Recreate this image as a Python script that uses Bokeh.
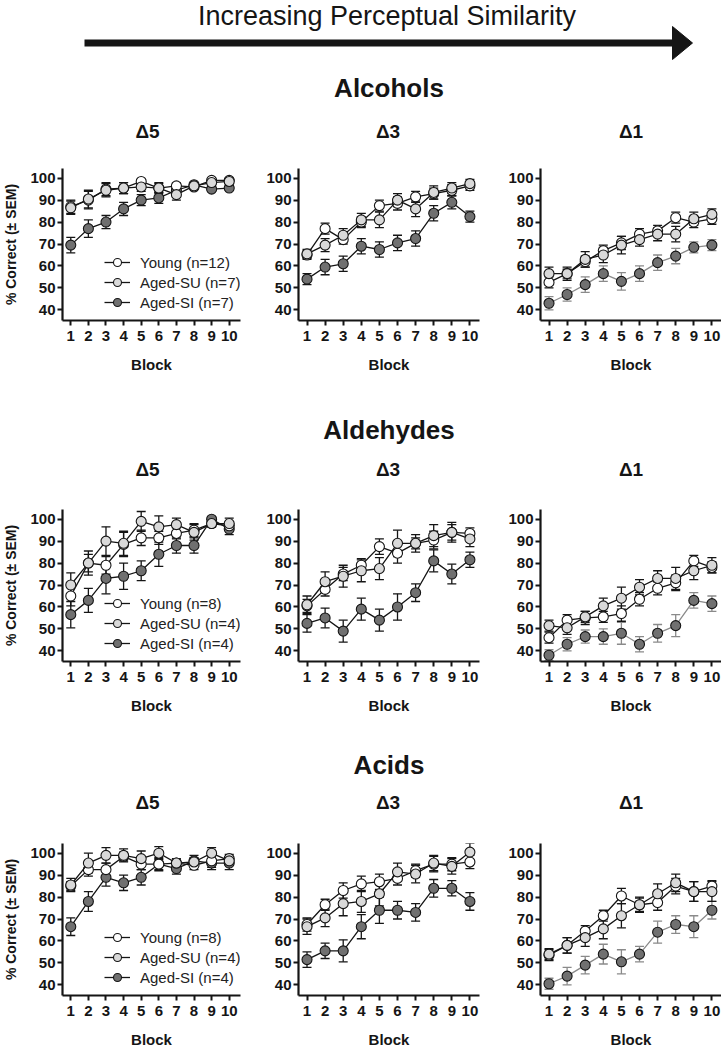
from bokeh.plotting import figure
from bokeh.models import (Range1d, FixedTicker, Whisker, TeeHead, ColumnDataSource,
                          Legend, LegendItem)
from bokeh.layouts import column, row
from bokeh.embed import file_html
from bokeh.resources import INLINE
from bokeh.core.properties import value

# ---------------- data ----------------
BLOCKS = [1, 2, 3, 4, 5, 6, 7, 8, 9, 10]
Y_TICKS = [40, 50, 60, 70, 80, 90, 100]
GROUPS = ["Alcohols", "Aldehydes", "Acids"]
DELTAS = ["\u03945", "\u03943", "\u03941"]
SUPER_TITLE = "Increasing Perceptual Similarity"
LEGEND_ROW1 = ["Young (n=12)", "Aged-SU (n=7)", "Aged-SI (n=7)"]
LEGEND_ROW23 = ["Young (n=8)", "Aged-SU (n=4)", "Aged-SI (n=4)"]

# Alcohols
ALC_D5_YOUNG = [87, 90, 95, 95.5, 98.5, 95.5, 96.5, 96, 99, 99]
ALC_D5_SU = [86.5, 90.5, 94.5, 95.5, 96, 95.5, 92.5, 96.5, 98, 98.5]
ALC_D5_SI = [69.5, 77, 80, 86, 90, 91, 94.5, 97, 95, 95.5]
ALC_D5_YOUNG_SEM = [3, 4, 3, 2.5, 1, 2, 1.5, 1, 1, 1]
ALC_D5_SU_SEM = [3, 4, 3, 2.5, 2, 2.5, 2.5, 1, 1, 1]
ALC_D5_SI_SEM = [3.5, 4, 3, 3, 2.5, 2.5, 2, 1, 1, 1]

ALC_D3_YOUNG = [65, 77, 72, 80, 87.5, 88.5, 91.5, 93, 94.5, 96.5]
ALC_D3_SU = [65.5, 69.5, 74, 81, 81, 90, 86, 93.5, 95.5, 97.5]
ALC_D3_SI = [54, 59.5, 61, 69, 67.5, 70.5, 72.5, 84, 89, 82.5]
ALC_D3_YOUNG_SEM = [2, 2.5, 2, 2.5, 2.5, 3, 2.5, 2.5, 2.5, 2]
ALC_D3_SU_SEM = [2, 3, 3, 3, 3.5, 3, 3.5, 3, 2.5, 2]
ALC_D3_SI_SEM = [2.5, 3.5, 3.5, 3.5, 3.5, 3.5, 3.5, 3.5, 3, 2.5]

ALC_D1_YOUNG = [52.5, 56.5, 62, 67, 70.5, 74.5, 76, 82, 80, 81.5]
ALC_D1_SU = [56.5, 56.5, 63, 65, 69.5, 72, 74.5, 74.5, 81.5, 83.5]
ALC_D1_SI = [43, 47, 51.5, 56.5, 53, 56.5, 61.5, 64.5, 68.5, 69.5]
ALC_D1_YOUNG_SEM = [2.5, 2, 2.5, 2.5, 3, 2.5, 2.5, 2.5, 2.5, 2.5]
ALC_D1_SU_SEM = [3, 3, 3.5, 3.5, 4, 3, 3, 3.5, 3, 2.5]
ALC_D1_SI_SEM = [3, 3, 3.5, 3.5, 4, 3.5, 3.5, 3.5, 2.5, 2.5]

# Aldehydes
ALD_D5_YOUNG = [65, 80, 79, 88.5, 91.5, 91.5, 93.5, 95, 98, 97]
ALD_D5_SU = [70, 80, 90, 89, 99, 96.5, 97.5, 94, 98, 98]
ALD_D5_SI = [56.5, 63, 73, 74, 76.5, 84, 88, 88, 100, 95.5]
ALD_D5_YOUNG_SEM = [4.5, 4, 4, 5.5, 3.5, 3, 2.5, 3, 1.5, 1.5]
ALD_D5_SU_SEM = [5.5, 5.5, 6.5, 5.5, 4.5, 5, 3, 3.5, 1.5, 2.5]
ALD_D5_SI_SEM = [6, 5.5, 7, 6, 4.5, 5.5, 3.5, 3.5, 1, 2.5]

ALD_D3_YOUNG = [60.5, 68, 75, 79, 87.5, 84.5, 89, 90.5, 94, 93.5]
ALD_D3_SU = [61, 71.5, 74, 76.5, 77.5, 89, 89, 92.5, 94, 91]
ALD_D3_SI = [52.5, 55, 49, 59, 54, 60, 66.5, 81, 75, 81.5]
ALD_D3_YOUNG_SEM = [3, 3, 3, 3, 3.5, 4.5, 2.5, 4, 3.5, 2.5]
ALD_D3_SU_SEM = [4, 4.5, 5, 5, 5, 6, 4, 5, 4.5, 3.5]
ALD_D3_SI_SEM = [4, 4.5, 5, 5, 5, 6, 4, 5, 4.5, 3.5]

ALD_D1_YOUNG = [46, 54, 55, 55.5, 57, 63.5, 68.5, 71, 81, 78]
ALD_D1_SU = [51.5, 50.5, 55.5, 60.5, 64, 69, 73, 73, 76.5, 79]
ALD_D1_SI = [38, 43, 46.5, 46.5, 48, 43, 48, 51.5, 63, 61.5]
ALD_D1_YOUNG_SEM = [2.5, 2.5, 3, 2.5, 3.5, 3, 3, 3.5, 2.5, 2.5]
ALD_D1_SU_SEM = [2.5, 3, 2.5, 3.5, 5, 3.5, 3.5, 5, 4, 3.5]
ALD_D1_SI_SEM = [2.5, 3, 3, 3.5, 5, 3.5, 4, 5, 3.5, 3.5]

# Acids
ACI_D5_YOUNG = [85, 92.5, 92.5, 98.5, 95, 95, 95.5, 94.5, 96.5, 97.5]
ACI_D5_SU = [85.5, 95.5, 99, 99, 97.5, 100, 95.5, 96, 100, 96.5]
ACI_D5_SI = [66.5, 78, 89, 86.5, 89, 95, 93, 96.5, 95.5, 95.5]
ACI_D5_YOUNG_SEM = [2, 3, 3, 2, 2.5, 2.5, 1.5, 2, 3, 2]
ACI_D5_SU_SEM = [3, 4.5, 3.5, 3, 3.5, 3, 2, 2, 2.5, 2]
ACI_D5_SI_SEM = [4, 4.5, 4, 3.5, 3.5, 3, 2.5, 2.5, 3, 3]

ACI_D3_YOUNG = [67.5, 76.5, 83, 86, 87, 88.5, 92, 95, 95, 96]
ACI_D3_SU = [66.5, 70.5, 77, 78, 81.5, 91.5, 90.5, 95.5, 94, 100.5]
ACI_D3_SI = [51.5, 55.5, 55.5, 66.5, 74, 74, 73, 84, 84, 78]
ACI_D3_YOUNG_SEM = [3, 2.5, 3.5, 3.5, 3.5, 3, 3, 3.5, 3, 3]
ACI_D3_SU_SEM = [3.5, 4, 5.5, 5, 5.5, 4, 4, 3.5, 3.5, 4]
ACI_D3_SI_SEM = [3.5, 3.5, 5, 5.5, 6, 4, 4, 4, 3.5, 4]

ACI_D1_YOUNG = [53.5, 58, 64.5, 71.5, 80.5, 76.5, 77.5, 85, 82.5, 85]
ACI_D1_SU = [54, 58, 61.5, 65.5, 71.5, 76.5, 81.5, 86.5, 82.5, 82.5]
ACI_D1_SI = [40.5, 44, 49, 54, 50.5, 54, 64, 67.5, 66.5, 74]
ACI_D1_YOUNG_SEM = [2.5, 3.5, 2.5, 2.5, 3.5, 3, 3.5, 3.5, 4.5, 2.5]
ACI_D1_SU_SEM = [2.5, 3.5, 4, 4.5, 5.5, 3.5, 4.5, 4, 4.5, 4.5]
ACI_D1_SI_SEM = [2.5, 4, 4, 4.5, 5.5, 3.5, 5, 4, 5, 4]

PANELS = [
    [((ALC_D5_YOUNG, ALC_D5_SU, ALC_D5_SI), (ALC_D5_YOUNG_SEM, ALC_D5_SU_SEM, ALC_D5_SI_SEM)),
     ((ALC_D3_YOUNG, ALC_D3_SU, ALC_D3_SI), (ALC_D3_YOUNG_SEM, ALC_D3_SU_SEM, ALC_D3_SI_SEM)),
     ((ALC_D1_YOUNG, ALC_D1_SU, ALC_D1_SI), (ALC_D1_YOUNG_SEM, ALC_D1_SU_SEM, ALC_D1_SI_SEM))],
    [((ALD_D5_YOUNG, ALD_D5_SU, ALD_D5_SI), (ALD_D5_YOUNG_SEM, ALD_D5_SU_SEM, ALD_D5_SI_SEM)),
     ((ALD_D3_YOUNG, ALD_D3_SU, ALD_D3_SI), (ALD_D3_YOUNG_SEM, ALD_D3_SU_SEM, ALD_D3_SI_SEM)),
     ((ALD_D1_YOUNG, ALD_D1_SU, ALD_D1_SI), (ALD_D1_YOUNG_SEM, ALD_D1_SU_SEM, ALD_D1_SI_SEM))],
    [((ACI_D5_YOUNG, ACI_D5_SU, ACI_D5_SI), (ACI_D5_YOUNG_SEM, ACI_D5_SU_SEM, ACI_D5_SI_SEM)),
     ((ACI_D3_YOUNG, ACI_D3_SU, ACI_D3_SI), (ACI_D3_YOUNG_SEM, ACI_D3_SU_SEM, ACI_D3_SI_SEM)),
     ((ACI_D1_YOUNG, ACI_D1_SU, ACI_D1_SI), (ACI_D1_YOUNG_SEM, ACI_D1_SU_SEM, ACI_D1_SI_SEM))],
]

# ---------------- styles / layout ----------------
FONT = "Liberation Sans"
INK = "#151515"
FILLS = {"young": "#ffffff", "su": "#d9d9d9", "si": "#707070"}
FAINT = "#8a8a8a"
FULL_W = 721
FRAME_WS = [183, 181, 181]
FRAME_H = 157
TOP_B = 8
BOT_B = 50
PANEL_H = TOP_B + FRAME_H + BOT_B
LEFTS = [57, 57, 58]
RIGHTS = [1, 3, 0]
PX_PER_BLOCK = 18.1
X_START = 0.53
Y_START, Y_END = 35.15, 104.41


def panel_centers():
    xs, acc = [], 0
    for i in range(3):
        xs.append(acc + LEFTS[i] + FRAME_WS[i] / 2)
        acc += LEFTS[i] + FRAME_WS[i] + RIGHTS[i]
    return xs


def make_panel(col, means, sems, legend_labels):
    fw = FRAME_WS[col]
    p = figure(width=LEFTS[col] + fw + RIGHTS[col], height=PANEL_H,
               x_range=Range1d(X_START, X_START + fw / PX_PER_BLOCK),
               y_range=Range1d(Y_START, Y_END),
               toolbar_location=None, output_backend="svg",
               min_border_left=LEFTS[col], min_border_right=RIGHTS[col],
               min_border_top=TOP_B, min_border_bottom=BOT_B)
    p.outline_line_color = None
    p.grid.visible = False
    p.background_fill_color = "white"
    p.border_fill_color = "white"

    for ax in (p.xaxis[0], p.yaxis[0]):
        ax.axis_line_width = 2.2
        ax.axis_line_color = INK
        ax.major_tick_line_width = 2
        ax.major_tick_line_color = INK
        ax.major_tick_out = 5
        ax.major_tick_in = 0
        ax.minor_tick_line_color = None
        ax.major_label_text_font = FONT
        ax.major_label_text_font_style = "bold"
        ax.major_label_text_font_size = "15px"
        ax.major_label_text_color = INK
        ax.axis_label_text_font = FONT
        ax.axis_label_text_font_style = "bold"
        ax.axis_label_text_color = INK
    p.xaxis.ticker = FixedTicker(ticks=BLOCKS)
    p.yaxis.ticker = FixedTicker(ticks=Y_TICKS)
    p.xaxis.axis_label = "Block"
    p.xaxis.axis_label_text_font_size = "15px"
    p.xaxis.major_label_standoff = 5
    p.xaxis.axis_label_standoff = 12
    p.yaxis.major_label_standoff = 2
    if col == 0:
        p.yaxis.axis_label = "% Correct (\u00b1 SEM)"
        p.yaxis.axis_label_text_font_size = "14px"
        p.yaxis.axis_label_standoff = 8

    young, su, si = means
    ysem, susem, sisem = sems
    si_col = FAINT if col == 2 else INK
    series = [("si", si, sisem, si_col), ("young", young, ysem, INK), ("su", su, susem, INK)]
    rend = {}
    for key, m, s, lc in series:
        src = ColumnDataSource(dict(x=BLOCKS, y=m,
                                    lo=[a - b for a, b in zip(m, s)],
                                    hi=[a + b for a, b in zip(m, s)]))
        w = Whisker(source=src, base="x", upper="hi", lower="lo",
                    line_color=lc, line_width=1.3, level="underlay",
                    upper_head=TeeHead(size=9, line_color=lc, line_width=1.3),
                    lower_head=TeeHead(size=9, line_color=lc, line_width=1.3))
        p.add_layout(w)
        ln = p.line("x", "y", source=src, line_color=lc, line_width=1.3)
        sc = p.scatter("x", "y", source=src, size=10, fill_color=FILLS[key],
                       line_color=INK, line_width=1.1)
        rend[key] = (ln, sc)

    if legend_labels is not None:
        items = [LegendItem(label=legend_labels[0], renderers=list(rend["young"])),
                 LegendItem(label=legend_labels[1], renderers=list(rend["su"])),
                 LegendItem(label=legend_labels[2], renderers=list(rend["si"]))]
        lg = Legend(items=items, location=(42, 8), orientation="vertical",
                    border_line_color=None, background_fill_alpha=0,
                    label_text_font=FONT, label_text_font_size="15px",
                    label_text_color="#222222",
                    glyph_width=26, glyph_height=20, label_height=20,
                    spacing=0, padding=0, margin=0, label_standoff=10)
        p.add_layout(lg)
    return p


def text_fig(height, labels):
    p = figure(width=FULL_W, height=height, x_range=Range1d(0, FULL_W),
               y_range=Range1d(height, 0), toolbar_location=None,
               output_backend="svg", x_axis_location=None, y_axis_location=None,
               min_border=0)
    p.outline_line_color = None
    p.grid.visible = False
    for (x, y, txt, size, style) in labels:
        p.text(x=[x], y=[y], text=[txt], text_font=value(FONT),
               text_font_size=size, text_font_style=style, text_color=INK,
               text_align="center", text_baseline="alphabetic")
    return p


cx = panel_centers()
DELTA_X = [cx[0] - 1.5, cx[1] - 1, cx[2]]


def delta_labels(y):
    return [(DELTA_X[i], y, DELTAS[i], "19px", "bold") for i in range(3)]


HEADER_H = 160
SEP1_H = 126
SEP2_H = 119

header = text_fig(HEADER_H, [(386.5, 15, SUPER_TITLE, "27px", "normal"),
                             (cx[1], 87, GROUPS[0], "26px", "bold")] + delta_labels(131))
# big arrow
header.segment(x0=[84], y0=[42.5], x1=[676], y1=[42.5], line_width=7, line_color=INK)
header.patch(x=[672, 692, 672], y=[26, 42.5, 59], fill_color=INK, line_color=INK)

sep1 = text_fig(SEP1_H, [(cx[1], 54, GROUPS[1], "26px", "bold")] + delta_labels(94))
sep2 = text_fig(SEP2_H, [(cx[1], 48, GROUPS[2], "26px", "bold")] + delta_labels(86))

rows = []
for r in range(3):
    figs = []
    for c in range(3):
        means, sems = PANELS[r][c]
        leg = None
        if c == 0:
            leg = LEGEND_ROW1 if r == 0 else LEGEND_ROW23
        figs.append(make_panel(c, means, sems, leg))
    rows.append(row(*figs, spacing=0))

layout = column(header, rows[0], sep1, rows[1], sep2, rows[2], spacing=0)

open("out.html", "w").write(file_html(layout, INLINE))
